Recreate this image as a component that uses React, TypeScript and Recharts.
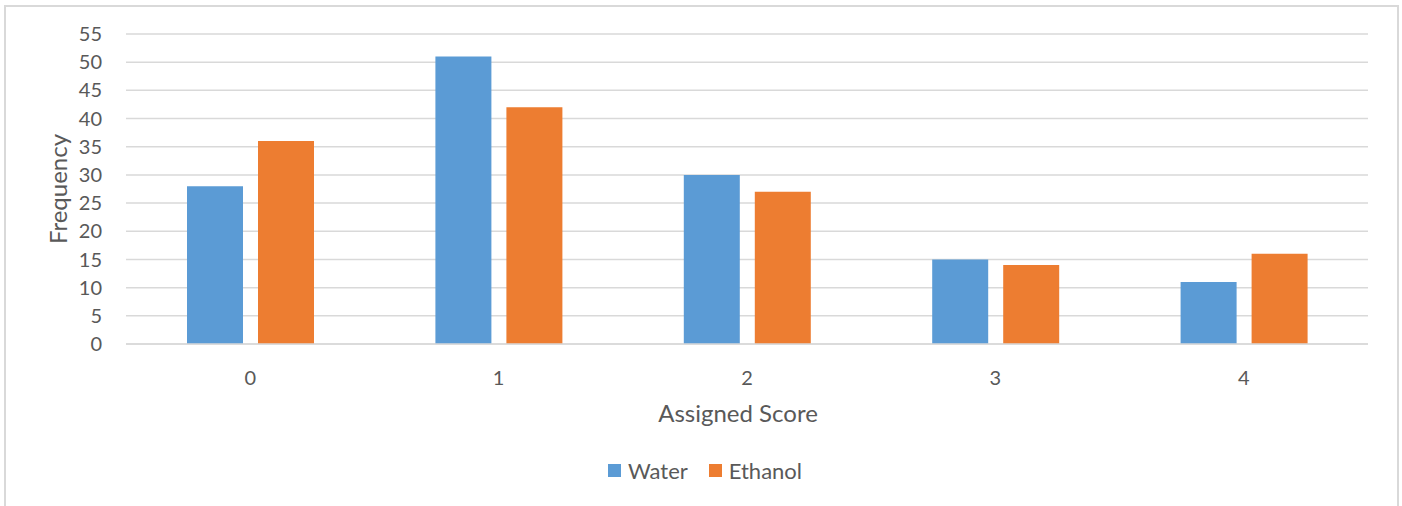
import { BarChart, Bar, XAxis, YAxis, CartesianGrid, Legend } from "recharts"

const scores = ["0", "1", "2", "3", "4"]
const water = [28, 51, 30, 15, 11]
const ethanol = [36, 42, 27, 14, 16]
const yTicks = [0, 5, 10, 15, 20, 25, 30, 35, 40, 45, 50, 55]
const seriesNames = ["Water", "Ethanol"]

const FONT = "Lato, 'Open Sans', sans-serif"
const TEXT = "#595959"

const data = scores.map((s, i) => ({ score: s, water: water[i], ethanol: ethanol[i] }))

// leyenda centrada, cuadritos de color + texto (en el orden de las series)
function LegendContent({ payload }: any) {
    const items = [...(payload ?? [])].sort(
        (a: any, b: any) => seriesNames.indexOf(a.value) - seriesNames.indexOf(b.value)
    )
    return (
        <div style={{ display: "flex", justifyContent: "center", alignItems: "center", height: 30, paddingLeft: 8 }}>
            {items.map((p: any, i: number) => (
                <div key={p.value} style={{ display: "flex", alignItems: "center", marginLeft: i ? 21 : 0 }}>
                    <span style={{ width: 13, height: 13, background: p.color, display: "inline-block", marginRight: 7 }} />
                    <span style={{ fontFamily: FONT, fontSize: 22, color: TEXT }}>{p.value}</span>
                </div>
            ))}
        </div>
    )
}

export default function App() {
    return (
        <div style={{ position: "absolute", left: 0, top: 0, width: 1402, height: 506, background: "#fff", overflow: "hidden" }}>
            <div style={{ position: "absolute", left: 4, top: 5, width: 1391, height: 520, border: "2px solid #d9d9d9" }} />
            <BarChart
                width={1402}
                height={506}
                data={data}
                margin={{ top: 34, right: 34, left: 0, bottom: 21 }}
                barSize={56}
                barGap={15}
                style={{ position: "absolute", left: 0, top: 0 }}
            >
                <CartesianGrid vertical={false} stroke="#d9d9d9" strokeWidth={1.5} />
                <XAxis
                    dataKey="score"
                    height={111}
                    tickLine={false}
                    tickSize={0}
                    tickMargin={27}
                    axisLine={{ stroke: "#d9d9d9", strokeWidth: 1.5 }}
                    tick={{ fontSize: 20, fill: TEXT, fontFamily: FONT }}
                    label={{ value: "Assigned Score", position: "insideBottom", offset: 33, dx: -9, fontSize: 24, fill: TEXT, fontFamily: FONT }}
                />
                <YAxis
                    width={126}
                    domain={[0, 55]}
                    ticks={yTicks}
                    interval={0}
                    axisLine={false}
                    tickLine={false}
                    tickSize={0}
                    tickMargin={24}
                    tick={{ fontSize: 20, fill: TEXT, fontFamily: FONT }}
                    label={({ viewBox }: any) => {
                        const cx = viewBox.x + 57
                        const cy = viewBox.y + viewBox.height / 2
                        return (
                            <text
                                x={cx}
                                y={cy}
                                transform={`rotate(-90 ${cx} ${cy})`}
                                textAnchor="middle"
                                dominantBaseline="central"
                                fontSize={24}
                                fill={TEXT}
                                fontFamily={FONT}
                            >
                                Frequency
                            </text>
                        )
                    }}
                />
                <Legend
                    verticalAlign="bottom"
                    height={30}
                    wrapperStyle={{ left: 0, width: 1402 }}
                    content={<LegendContent />}
                />
                <Bar dataKey="water" name="Water" fill="#5B9BD5" isAnimationActive={false} />
                <Bar dataKey="ethanol" name="Ethanol" fill="#ED7D31" isAnimationActive={false} />
            </BarChart>
        </div>
    )
}
